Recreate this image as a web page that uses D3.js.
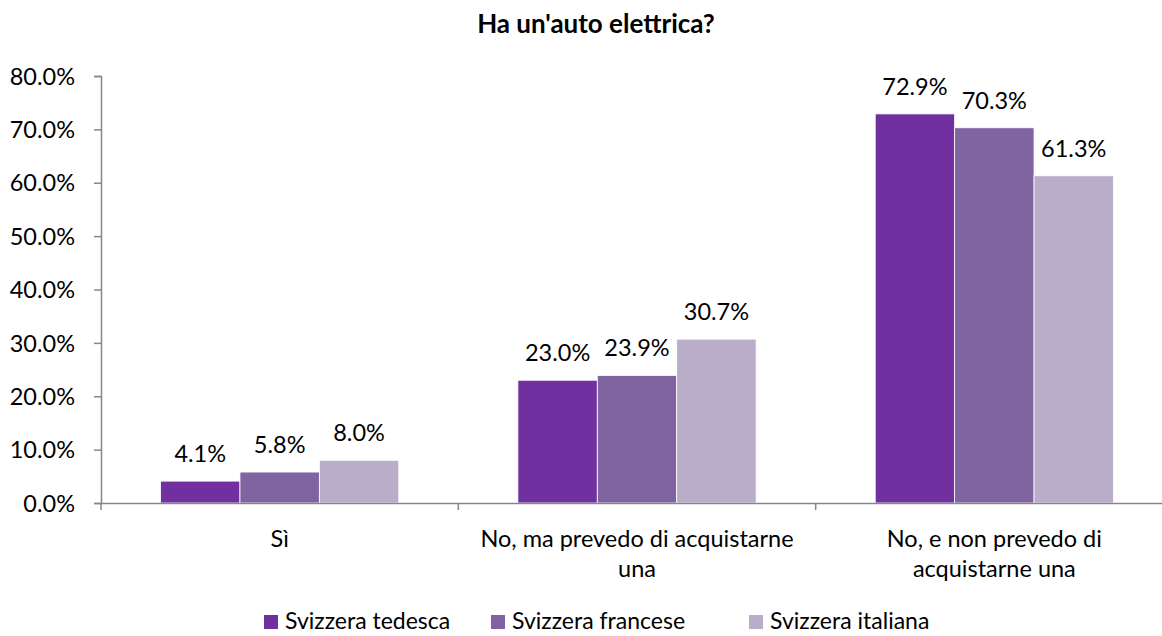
<!DOCTYPE html>
<html>
<head>
<meta charset="utf-8">
<title>Ha un'auto elettrica?</title>
<script src="https://d3js.org/d3.v7.min.js"></script>
<style>
  body { margin: 0; background: #fff; }
  svg text { font-family: Lato, "Open Sans", sans-serif; fill: #000; }
</style>
</head>
<body>
<svg id="chart" width="1162" height="636"></svg>
<script>
  const categories = ["Sì", "No, ma prevedo di acquistarne una", "No, e non prevedo di acquistarne una"];
  const categoryLines = [["Sì"], ["No, ma prevedo di acquistarne", "una"], ["No, e non prevedo di", "acquistarne una"]];
  const seriesNames = ["Svizzera tedesca", "Svizzera francese", "Svizzera italiana"];
  const tedesca = [4.1, 23.0, 72.9];
  const francese = [5.8, 23.9, 70.3];
  const italiana = [8.0, 30.7, 61.3];
  const yTicks = [0, 10, 20, 30, 40, 50, 60, 70, 80];
  const colors = ["#7030a0", "#8064a2", "#b9adca"];

  const seriesValues = [tedesca, francese, italiana];
  const fs = "23.5px";

  const margin = { top: 76, left: 101, bottom: 133 };
  const svg = d3.select("#chart"),
    height = +svg.attr("height") - margin.top - margin.bottom,
    g = svg.append("g").attr("transform", `translate(${margin.left}, ${margin.top})`);

  const x0 = d3.scaleBand().domain(categories).range([0, 1072]).paddingInner(0).paddingOuter(0);
  const x1 = d3.scaleBand().domain(seriesNames).range([0, x0.bandwidth()]).paddingInner(0).paddingOuter(0.75);
  const y = d3.scaleLinear().domain([0, 80]).range([height, 0]);

  // y axis
  const yAxis = g.append("g")
    .call(d3.axisLeft(y).tickValues(yTicks).tickSize(7).tickPadding(19).tickFormat(d => d.toFixed(1) + "%"));
  yAxis.select(".domain").attr("stroke", "#868686").attr("stroke-width", 1.5);
  yAxis.selectAll(".tick line").attr("stroke", "#868686").attr("stroke-width", 1.5);
  yAxis.selectAll(".tick text").style("font-size", fs).style("font-family", "Lato, sans-serif").attr("fill", "#000").attr("dy", "0.35em");

  // bars
  const slice = g.selectAll(".slice")
    .data(categories)
    .enter().append("g")
    .attr("class", "slice")
    .attr("transform", d => `translate(${x0(d)},0)`);

  slice.selectAll("rect")
    .data((c, ci) => seriesNames.map((s, si) => ({ s, si, v: seriesValues[si][ci] })))
    .enter().append("rect")
    .attr("x", d => x1(d.s))
    .attr("width", x1.bandwidth())
    .attr("y", d => y(d.v))
    .attr("height", d => height - y(d.v))
    .attr("fill", d => colors[d.si])
    .attr("stroke", "#fff")
    .attr("stroke-width", 0.8);

  slice.selectAll("text.val")
    .data((c, ci) => seriesNames.map((s, si) => ({ s, si, v: seriesValues[si][ci] })))
    .enter().append("text")
    .attr("class", "val")
    .attr("x", d => x1(d.s) + x1.bandwidth() / 2)
    .attr("y", d => y(d.v) - 19)
    .attr("text-anchor", "middle")
    .style("font-size", fs)
    .text(d => d.v.toFixed(1) + "%");

  // x axis
  const xAxis = g.append("g")
    .attr("transform", `translate(0,${height})`)
    .call(d3.axisBottom(x0).tickSize(0).tickFormat(""));
  xAxis.select(".domain").attr("stroke", "#868686").attr("stroke-width", 1.5);
  xAxis.selectAll(".tick").remove();

  g.append("g").selectAll("line")
    .data(categories)
    .enter().append("line")
    .attr("x1", d => x0(d)).attr("x2", d => x0(d))
    .attr("y1", height).attr("y2", height + 7)
    .attr("stroke", "#868686").attr("stroke-width", 1.5);

  categories.forEach((c, i) => {
    const t = g.append("text")
      .attr("x", x0(c) + x0.bandwidth() / 2)
      .attr("y", height + 44)
      .attr("text-anchor", "middle")
      .style("font-size", fs);
    categoryLines[i].forEach((ln, j) => {
      t.append("tspan").attr("x", x0(c) + x0.bandwidth() / 2).attr("dy", j ? 30 : 0).text(ln);
    });
  });

  // title
  svg.append("text")
    .attr("x", 596)
    .attr("y", 33)
    .attr("text-anchor", "middle")
    .style("font-size", "26px")
    .style("font-weight", "bold")
    .text("Ha un'auto elettrica?");

  // legend
  const legendX = [264, 491, 749];
  const legend = svg.selectAll(".legend")
    .data(seriesNames)
    .enter().append("g")
    .attr("class", "legend")
    .attr("transform", (d, i) => `translate(${legendX[i]},621)`);

  legend.append("rect")
    .attr("x", 0).attr("y", -6)
    .attr("width", 14).attr("height", 14)
    .attr("fill", (d, i) => colors[i]);

  legend.append("text")
    .attr("x", 21)
    .attr("y", 0)
    .attr("dy", "0.33em")
    .style("font-size", "23px")
    .text(d => d);
</script>
</body>
</html>
